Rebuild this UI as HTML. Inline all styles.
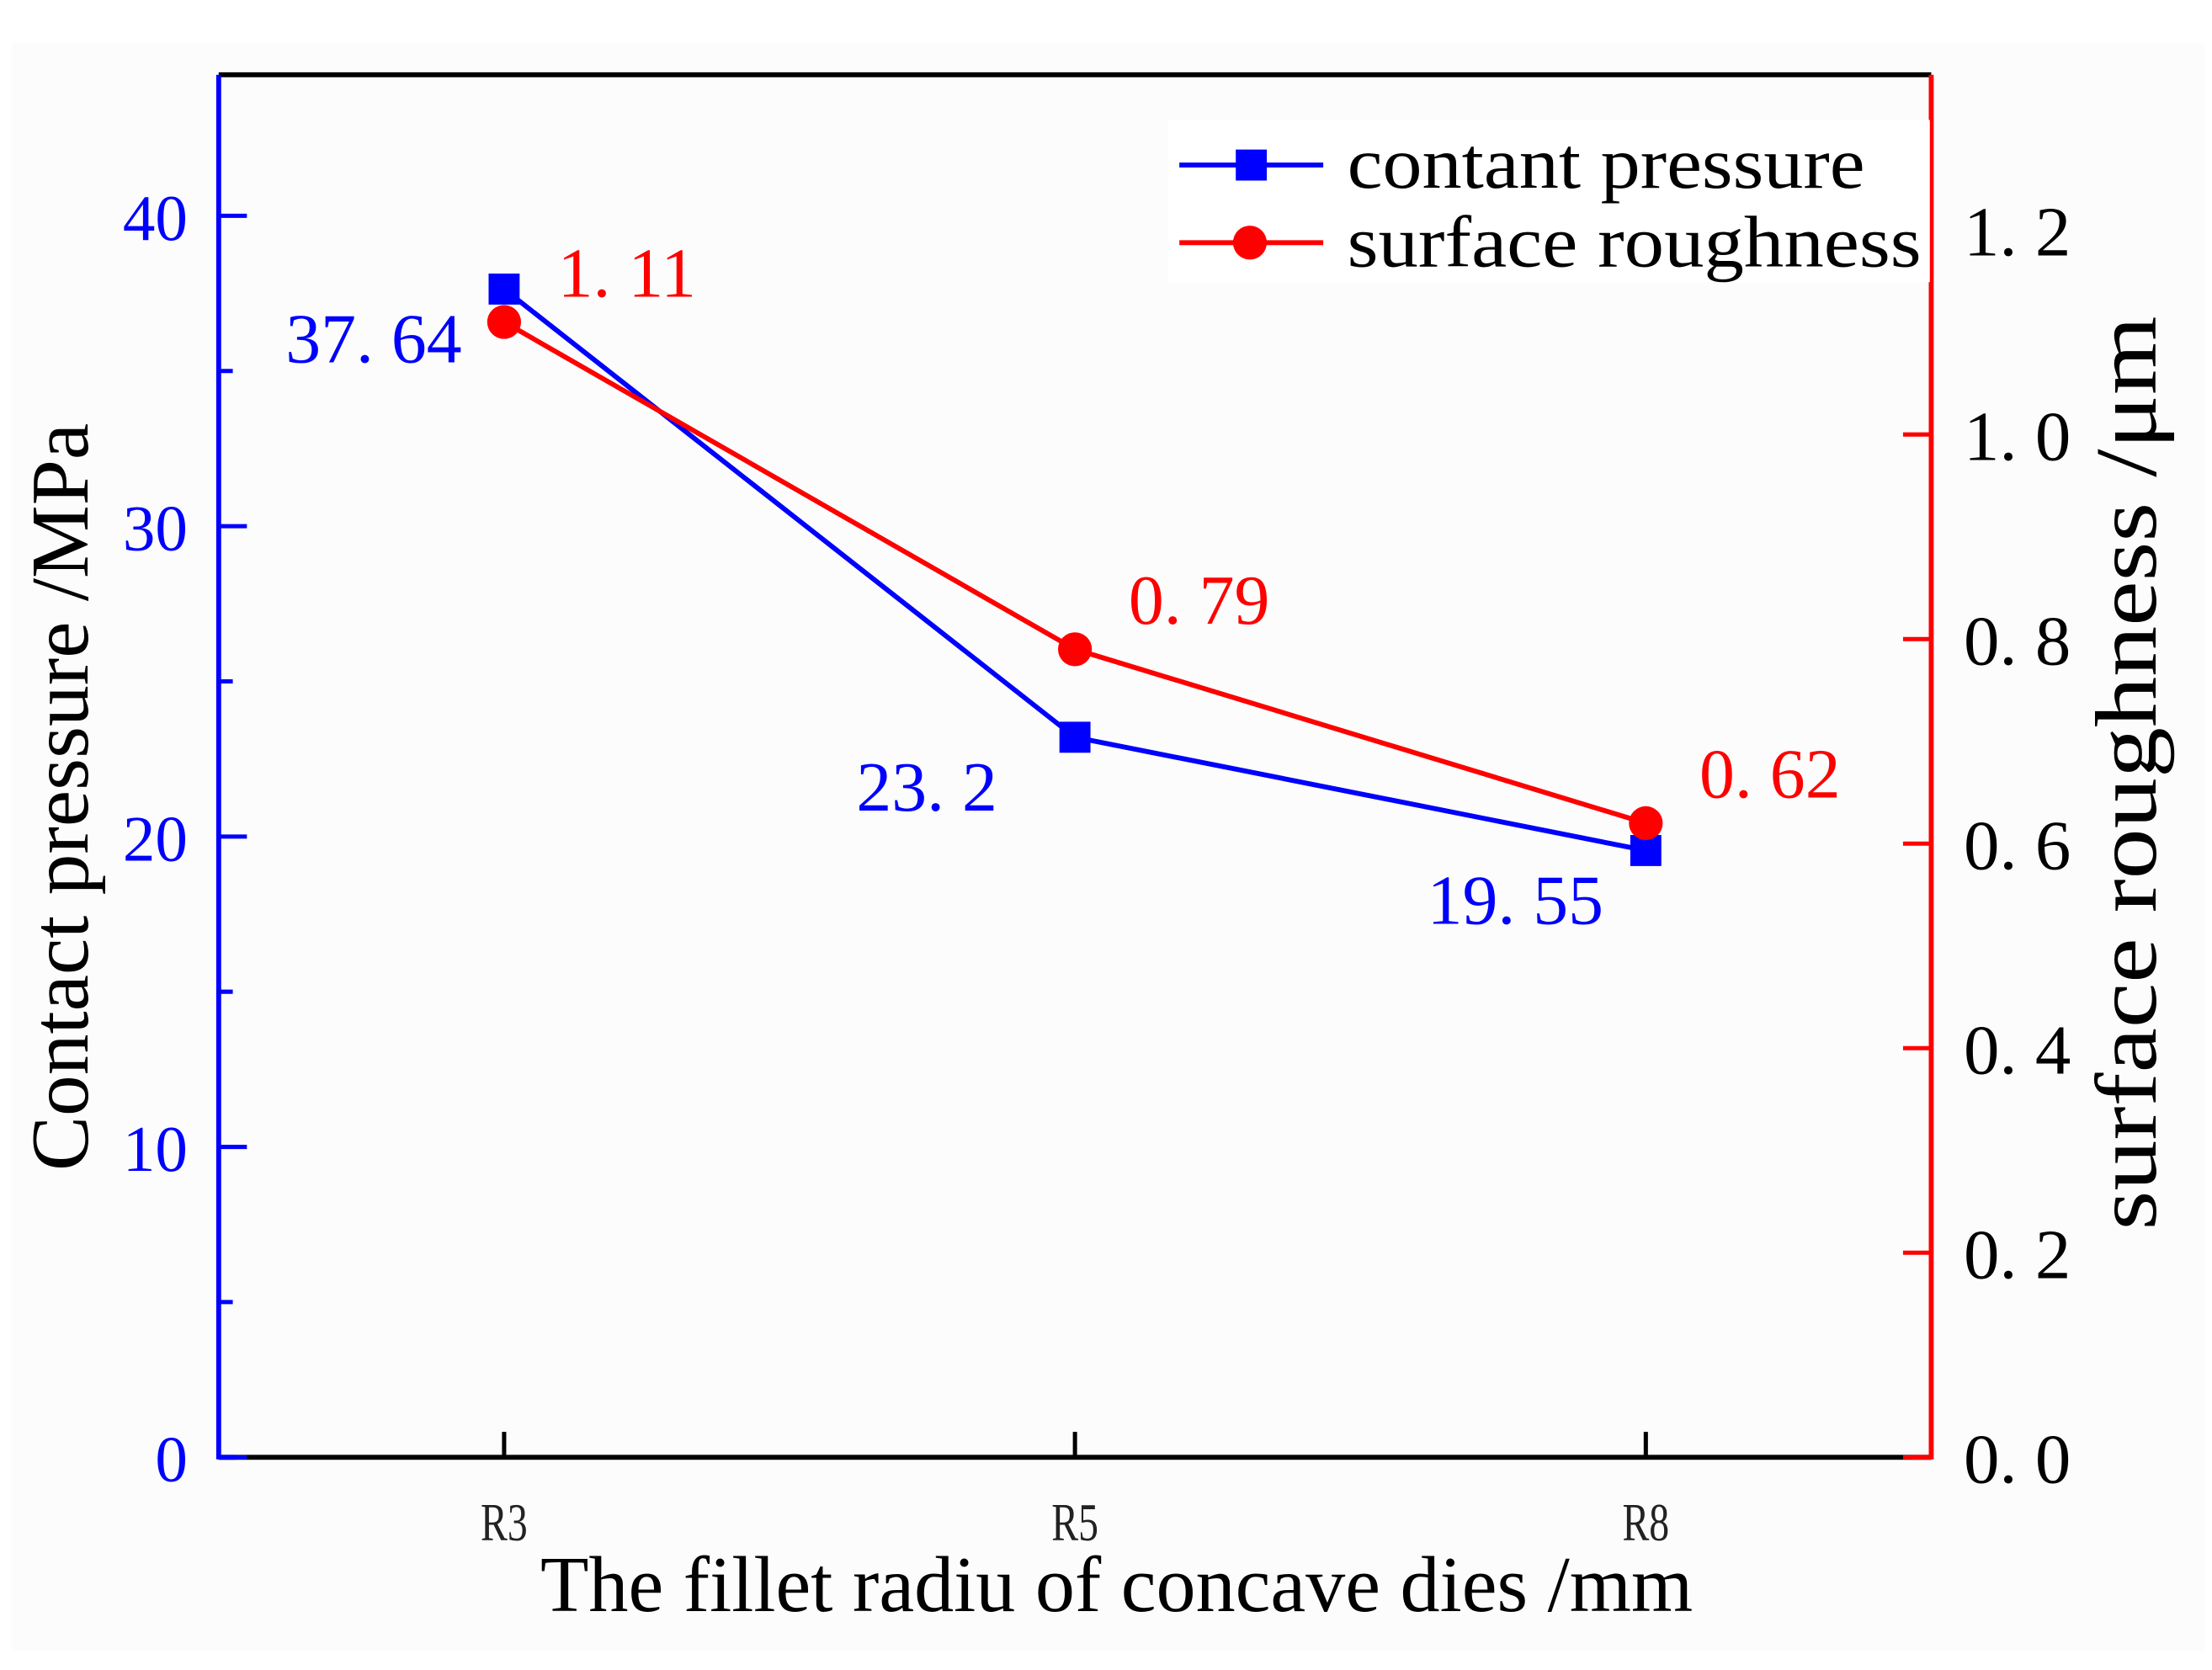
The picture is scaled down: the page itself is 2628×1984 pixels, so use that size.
<!DOCTYPE html>
<html><head><meta charset="utf-8"><style>
html,body{margin:0;padding:0;background:#fff;}
svg{display:block;}
text{font-family:"Liberation Serif","Noto Serif CJK SC",serif;}
</style></head><body>
<svg id="chart" width="2628" height="1984" viewBox="0 0 1568 1183.8" xmlns="http://www.w3.org/2000/svg">
<rect x="0" y="0" width="1568" height="1184" fill="#ffffff"/>
<rect x="8" y="30" width="1555" height="1140" fill="#fcfcfc"/>
<g id="axes"></g>
<g id="series"></g>
<g id="legend">
  <rect x="828" y="85" width="540" height="115" fill="#ffffff"/>
  <line x1="836" y1="117" x2="938" y2="117" stroke="#0000ff" stroke-width="3.5"/>
  <rect x="876" y="106" width="22" height="22" fill="#0000ff"/>
  <text x="955" y="133" font-size="52" textLength="367" lengthAdjust="spacingAndGlyphs" fill="#000">contant pressure</text>
  <line x1="836" y1="172" x2="938" y2="172" stroke="#ff0000" stroke-width="3.5"/>
  <circle cx="886" cy="172" r="12" fill="#ff0000"/>
  <text x="955" y="189" font-size="52" textLength="407" lengthAdjust="spacingAndGlyphs" fill="#000">surface roughness</text>
</g>
<text x="383" y="1142" font-size="56" textLength="817" lengthAdjust="spacingAndGlyphs" fill="#000">The fillet radiu of concave dies /mm</text>
<text transform="translate(62,830) rotate(-90)" font-size="58" textLength="530" lengthAdjust="spacingAndGlyphs" fill="#000">Contact pressure  /MPa</text>
<text transform="translate(1528,872) rotate(-90)" font-size="62" textLength="648" lengthAdjust="spacingAndGlyphs" fill="#000">surface roughness /μm</text>
</svg>
<script>
const categories = ["R3", "R5", "R8"];
const pressure = [37.64, 23.2, 19.55];
const roughness = [1.11, 0.79, 0.62];
const pressureLabels = ["37. 64", "23. 2", "19. 55"];
const roughnessLabels = ["1. 11", "0. 79", "0. 62"];
const leftTicks = [0, 10, 20, 30, 40];
const leftMinor = [5, 15, 25, 35];
const rightTicks = [0, 0.2, 0.4, 0.6, 0.8, 1.0, 1.2];
const rightTickLabels = ["0. 0", "0. 2", "0. 4", "0. 6", "0. 8", "1. 0", "1. 2"];

const NS = "http://www.w3.org/2000/svg";
const L = 155, R = 1369, T = 53, B = 1033;
const leftMax = (B - T) / 22;
const rightMax = (B - T) / 725;
const pLabelDx = [-30, -55, -30];
function xPos(i){ return L + (i + 0.5) * (R - L) / categories.length; }
function yLeft(v){ return B - v / leftMax * (B - T); }
function yRight(v){ return B - v / rightMax * (B - T); }
function mk(tag, attrs, parent){
  const e = document.createElementNS(NS, tag);
  for (const k in attrs) e.setAttribute(k, attrs[k]);
  parent.appendChild(e);
  return e;
}
const axes = document.getElementById('axes');
const series = document.getElementById('series');

let el;
el = mk('line', {x1:L, y1:T, x2:R, y2:T, stroke:'#000', 'stroke-width':3.5}, axes);


el = mk('line', {x1:L, y1:B, x2:R, y2:B, stroke:'#000', 'stroke-width':3.5}, axes);


el = mk('line', {x1:L, y1:T, x2:L, y2:B+1.5, stroke:'#0000ff', 'stroke-width':3.5}, axes);


el = mk('line', {x1:L, y1:B, x2:L+12, y2:B, stroke:'#0000ff', 'stroke-width':3.5}, axes);


el = mk('line', {x1:R, y1:T, x2:R, y2:B+1.5, stroke:'#ff0000', 'stroke-width':3.5}, axes);


el = mk('line', {x1:R-14, y1:B, x2:R, y2:B, stroke:'#ff0000', 'stroke-width':3.5}, axes);



categories.forEach((c, i) => {
  const x = xPos(i);
  let t = mk('line', {x1:x, y1:B, x2:x, y2:B-18, stroke:'#000', 'stroke-width':3}, axes);
  
  
  let lb = mk('text', {x:x, y:1092, 'font-size':38, 'text-anchor':'middle', fill:'#222', transform:'translate('+x+',0) scale(0.75,1) translate('+(-x)+',0)'}, axes);
  lb.textContent = c;
  
  
});
leftTicks.forEach(v => {
  const y = yLeft(v);
  let t = mk('line', {x1:L, y1:y, x2:L+20, y2:y, stroke:'#0000ff', 'stroke-width':3}, axes);
  
  
  let lb = mk('text', {x:133, y:y+17, 'font-size':46, 'text-anchor':'end', fill:'#0000ff'}, axes);
  lb.textContent = String(v);
  
  
});
leftMinor.forEach(v => {
  const y = yLeft(v);
  let t = mk('line', {x1:L, y1:y, x2:L+10, y2:y, stroke:'#0000ff', 'stroke-width':3}, axes);
  
  
});
rightTicks.forEach((v, i) => {
  const y = yRight(v);
  let t = mk('line', {x1:R-20, y1:y, x2:R, y2:y, stroke:'#ff0000', 'stroke-width':3}, axes);
  
  
  let lb = mk('text', {x:1392, y:y+18, 'font-size':50, textLength:76, lengthAdjust:'spacingAndGlyphs', fill:'#000'}, axes);
  lb.textContent = rightTickLabels[i];
  
  
});

let pts = pressure.map((v, i) => xPos(i) + ',' + yLeft(v)).join(' ');
el = mk('polyline', {points:pts, fill:'none', stroke:'#0000ff', 'stroke-width':3.5}, series);


pts = roughness.map((v, i) => xPos(i) + ',' + yRight(v)).join(' ');
el = mk('polyline', {points:pts, fill:'none', stroke:'#ff0000', 'stroke-width':3.5}, series);



pressure.forEach((v, i) => {
  const x = xPos(i), y = yLeft(v);
  let m = mk('rect', {x:x-11, y:y-11, width:22, height:22, fill:'#0000ff'}, series);
  
  
  let lb = mk('text', {x:x+pLabelDx[i], y:y+52, 'font-size':50, 'text-anchor':'end', fill:'#0000ff'}, series);
  lb.textContent = pressureLabels[i];
  
  
});
roughness.forEach((v, i) => {
  const x = xPos(i), y = yRight(v);
  let m = mk('circle', {cx:x, cy:y, r:12, fill:'#ff0000'}, series);
  
  
  let lb = mk('text', {x:x+38, y:y-18, 'font-size':50, fill:'#ff0000'}, series);
  lb.textContent = roughnessLabels[i];
  
  
});
</script>
</body></html>
